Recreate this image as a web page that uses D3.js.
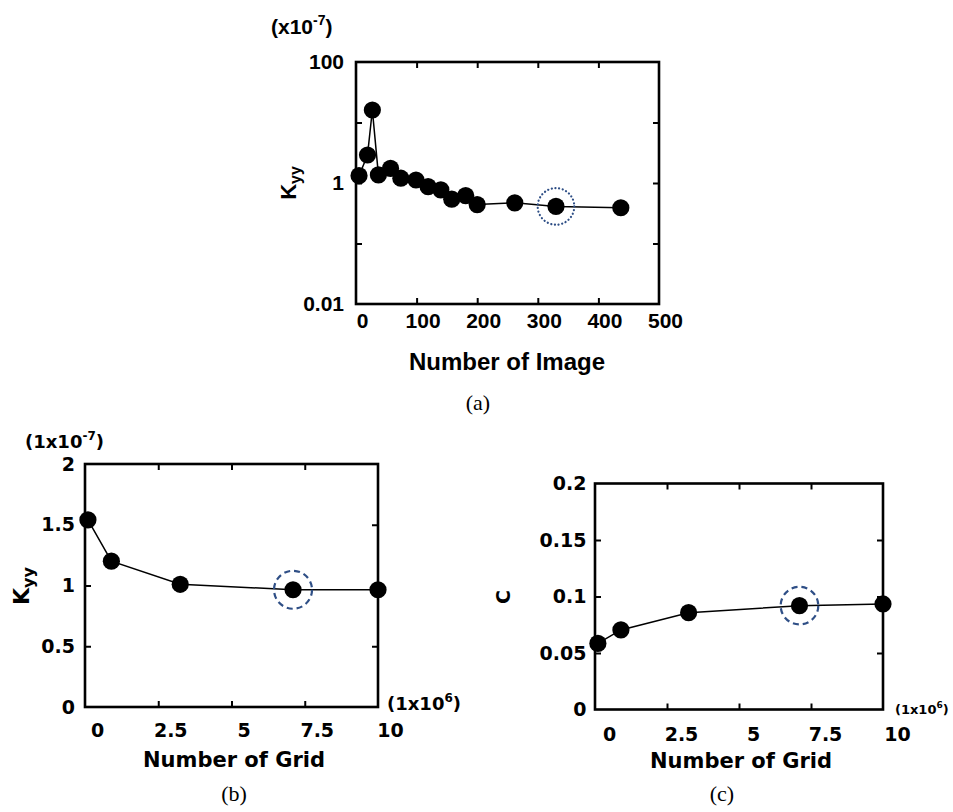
<!DOCTYPE html>
<html>
<head>
<meta charset="utf-8">
<script src="https://cdn.jsdelivr.net/npm/d3@7"></script>
<style>
  html, body { margin: 0; padding: 0; background: #fff; }
  svg { display: block; }
</style>
</head>
<body>
<svg id="chart" width="953" height="812"></svg>
<script>
// ---------- DATA ----------
// Panel (a): K_yy vs number of images (x10^-7), log scale
const imageCounts = [5, 19, 27, 37, 57, 74, 99, 119, 140, 158, 181, 200, 262, 330, 437];
const kyyImage    = [1.32, 2.9, 16.1, 1.36, 1.75, 1.20, 1.12, 0.87, 0.77, 0.54, 0.62, 0.44, 0.47, 0.41, 0.39];
const highlightA  = 13;
const xTicksA = [0, 100, 200, 300, 400, 500];
const yTicksA = [0.01, 0.1, 1, 10, 100];
const yLabelsA = ["0.01", "", "1", "", "100"];

// Panel (b)/(c): vs number of grid (x10^6)
const gridCounts = [0.1, 0.9, 3.25, 7.1, 10];
const kyyGrid    = [1.54, 1.20, 1.01, 0.965, 0.965];
const cGrid      = [0.0585, 0.0704, 0.0857, 0.0919, 0.0934];
const highlightBC = 3;
const xTicksBC = [0, 2.5, 5, 7.5, 10];
const xLabelsBC = ["0", "2.5", "5", "7.5", "10"];
const yTicksB = [0, 0.5, 1, 1.5, 2];
const yLabelsB = ["0", "0.5", "1", "1.5", "2"];
const yTicksC = [0, 0.05, 0.1, 0.15, 0.2];
const yLabelsC = ["0", "0.05", "0.1", "0.15", "0.2"];

// ---------- DRAW ----------
const svg = d3.select("#chart");
const HIGHLIGHT_COLOR = "#2f4f86";

function panel(cfg) {
  const g = svg.append("g");
  const x = d3.scaleLinear().domain(cfg.xDomain).range([cfg.left, cfg.right]);
  const y = (cfg.log ? d3.scaleLog() : d3.scaleLinear()).domain(cfg.yDomain).range([cfg.bottom, cfg.top]);
  const font = cfg.font;

  const inner = cfg.xTicks.slice(1, -1);
  const innerY = cfg.yTicks.slice(1, -1);

  const bottom = g.append("g").attr("transform", `translate(0,${cfg.bottom})`)
    .call(d3.axisBottom(x).tickValues(cfg.xTicks).tickSizeInner(-6).tickSizeOuter(0)
      .tickPadding(cfg.xPad).tickFormat((d, i) => cfg.xLabels[i]));
  bottom.selectAll("text").attr("dx", cfg.xLabelShift);
  bottom.selectAll(".tick").filter(d => !inner.includes(d)).select("line").remove();

  const top = g.append("g").attr("transform", `translate(0,${cfg.top})`)
    .call(d3.axisTop(x).tickValues(inner).tickSizeInner(-6).tickSizeOuter(0).tickFormat(""));

  const left = g.append("g").attr("transform", `translate(${cfg.left},0)`)
    .call(d3.axisLeft(y).tickValues(cfg.yTicks).tickSizeInner(-6).tickSizeOuter(0)
      .tickPadding(cfg.yPad).tickFormat((d, i) => cfg.yLabels[i]));
  left.selectAll(".tick").filter(d => !innerY.includes(d)).select("line").remove();

  const right = g.append("g").attr("transform", `translate(${cfg.right},0)`)
    .call(d3.axisRight(y).tickValues(innerY).tickSizeInner(-6).tickSizeOuter(0).tickFormat(""));

  [bottom, top, left, right].forEach(a => {
    a.select(".domain").remove();
    a.selectAll("line").attr("stroke", "#000").attr("stroke-width", 2);
    a.selectAll("text").attr("fill", "#000").attr("font-family", font)
      .attr("font-weight", "bold").attr("font-size", cfg.tickFont);
  });

  g.append("rect")
    .attr("x", cfg.left).attr("y", cfg.top)
    .attr("width", cfg.right - cfg.left).attr("height", cfg.bottom - cfg.top)
    .attr("fill", "none").attr("stroke", "#000").attr("stroke-width", 2.6);

  const pts = cfg.xs.map((v, i) => [v, cfg.ys[i]]);
  g.append("path").datum(pts)
    .attr("fill", "none").attr("stroke", "#000").attr("stroke-width", 1.5)
    .attr("d", d3.line().x(d => x(d[0])).y(d => y(d[1])));
  g.selectAll("circle.pt").data(pts).enter().append("circle")
    .attr("class", "pt")
    .attr("cx", d => x(d[0])).attr("cy", d => y(d[1]))
    .attr("r", cfg.r).attr("fill", "#000");

  const h = pts[cfg.highlight];
  g.append("circle")
    .attr("cx", x(h[0])).attr("cy", y(h[1])).attr("r", cfg.ringR)
    .attr("fill", "none").attr("stroke", HIGHLIGHT_COLOR).attr("stroke-width", cfg.ringW)
    .attr("stroke-dasharray", cfg.ringDash).attr("stroke-linecap", cfg.ringCap);

  return { g, x, y };
}

// Panel (a)
const A = panel({
  left: 356, right: 659, top: 62, bottom: 304,
  xDomain: [0, 500], yDomain: [0.01, 100], log: true,
  xTicks: xTicksA, xLabels: xTicksA.map(String), yTicks: yTicksA, yLabels: yLabelsA,
  xPad: 9, yPad: 12, xLabelShift: 6,
  font: "'Liberation Sans', Arial, sans-serif", tickFont: 21,
  xs: imageCounts, ys: kyyImage, r: 8.6,
  highlight: highlightA, ringR: 18.3, ringW: 2.2, ringDash: "0.1,3.6", ringCap: "round"
});
A.g.append("text").attr("x", 507).attr("y", 370).attr("text-anchor", "middle")
  .attr("font-family", "'Liberation Sans', Arial, sans-serif").attr("font-weight", "bold")
  .attr("font-size", 24).text("Number of Image");
{
  const t = A.g.append("text").attr("x", 271).attr("y", 34)
    .attr("font-family", "'Liberation Sans', Arial, sans-serif").attr("font-weight", "bold")
    .attr("font-size", 21);
  t.append("tspan").text("(x10");
  t.append("tspan").attr("dy", -9).attr("font-size", 14).text("-7");
  t.append("tspan").attr("dy", 9).text(")");
}
{
  const t = A.g.append("text").attr("transform", "translate(296,183) rotate(-90)")
    .attr("text-anchor", "middle")
    .attr("font-family", "'Liberation Sans', Arial, sans-serif").attr("font-weight", "bold")
    .attr("font-size", 22);
  t.append("tspan").text("K");
  t.append("tspan").attr("dy", 5).attr("font-size", 16).text("yy");
}
A.g.append("text").attr("x", 478).attr("y", 410).attr("text-anchor", "middle")
  .attr("font-family", "'Liberation Serif', 'Times New Roman', serif")
  .attr("font-size", 22).text("(a)");

// Panel (b)
const B = panel({
  left: 85, right: 378, top: 464, bottom: 707,
  xDomain: [0, 10], yDomain: [0, 2], log: false,
  xTicks: xTicksBC, xLabels: xLabelsBC, yTicks: yTicksB, yLabels: yLabelsB,
  xPad: 17, yPad: 10, xLabelShift: 12,
  font: "'DejaVu Sans', Verdana, sans-serif", tickFont: 19,
  xs: gridCounts, ys: kyyGrid, r: 8.6,
  highlight: highlightBC, ringR: 19, ringW: 2.2, ringDash: "6,4", ringCap: "butt"
});
B.g.append("text").attr("x", 234).attr("y", 767).attr("text-anchor", "middle")
  .attr("font-family", "'DejaVu Sans', Verdana, sans-serif").attr("font-weight", "bold")
  .attr("font-size", 21).text("Number of Grid");
{
  const t = B.g.append("text").attr("x", 25).attr("y", 448)
    .attr("font-family", "'DejaVu Sans', Verdana, sans-serif").attr("font-weight", "bold")
    .attr("font-size", 18);
  t.append("tspan").text("(1x10");
  t.append("tspan").attr("dy", -8).attr("font-size", 12).text("-7");
  t.append("tspan").attr("dy", 8).text(")");
}
{
  const t = B.g.append("text").attr("x", 387).attr("y", 710)
    .attr("font-family", "'DejaVu Sans', Verdana, sans-serif").attr("font-weight", "bold")
    .attr("font-size", 18);
  t.append("tspan").text("(1x10");
  t.append("tspan").attr("dy", -8).attr("font-size", 12).text("6");
  t.append("tspan").attr("dy", 8).text(")");
}
{
  const t = B.g.append("text").attr("transform", "translate(29,586) rotate(-90)")
    .attr("text-anchor", "middle")
    .attr("font-family", "'DejaVu Sans', Verdana, sans-serif").attr("font-weight", "bold")
    .attr("font-size", 22);
  t.append("tspan").text("K");
  t.append("tspan").attr("dy", 5).attr("font-size", 16).text("yy");
}
B.g.append("text").attr("x", 234).attr("y", 801).attr("text-anchor", "middle")
  .attr("font-family", "'Liberation Serif', 'Times New Roman', serif")
  .attr("font-size", 22).text("(b)");

// Panel (c)
const C = panel({
  left: 595, right: 883, top: 483.5, bottom: 709.5,
  xDomain: [0, 10], yDomain: [0, 0.2], log: false,
  xTicks: xTicksBC, xLabels: xLabelsBC, yTicks: yTicksC, yLabels: yLabelsC,
  xPad: 18.5, yPad: 8.5, xLabelShift: 14,
  font: "'DejaVu Sans', Verdana, sans-serif", tickFont: 19,
  xs: gridCounts, ys: cGrid, r: 8.6,
  highlight: highlightBC, ringR: 18.8, ringW: 2.2, ringDash: "6,4", ringCap: "butt"
});
C.g.append("text").attr("x", 741).attr("y", 768).attr("text-anchor", "middle")
  .attr("font-family", "'DejaVu Sans', Verdana, sans-serif").attr("font-weight", "bold")
  .attr("font-size", 21).text("Number of Grid");
{
  const t = C.g.append("text").attr("x", 895).attr("y", 714)
    .attr("font-family", "'DejaVu Sans', Verdana, sans-serif").attr("font-weight", "bold")
    .attr("font-size", 13);
  t.append("tspan").text("(1x10");
  t.append("tspan").attr("dy", -6).attr("font-size", 9).text("6");
  t.append("tspan").attr("dy", 6).text(")");
}
C.g.append("text").attr("transform", "translate(510,597) rotate(-90)")
  .attr("text-anchor", "middle")
  .attr("font-family", "'DejaVu Sans', Verdana, sans-serif").attr("font-weight", "bold")
  .attr("font-size", 19).text("C");
C.g.append("text").attr("x", 722).attr("y", 801).attr("text-anchor", "middle")
  .attr("font-family", "'Liberation Serif', 'Times New Roman', serif")
  .attr("font-size", 22).text("(c)");
</script>
</body>
</html>
